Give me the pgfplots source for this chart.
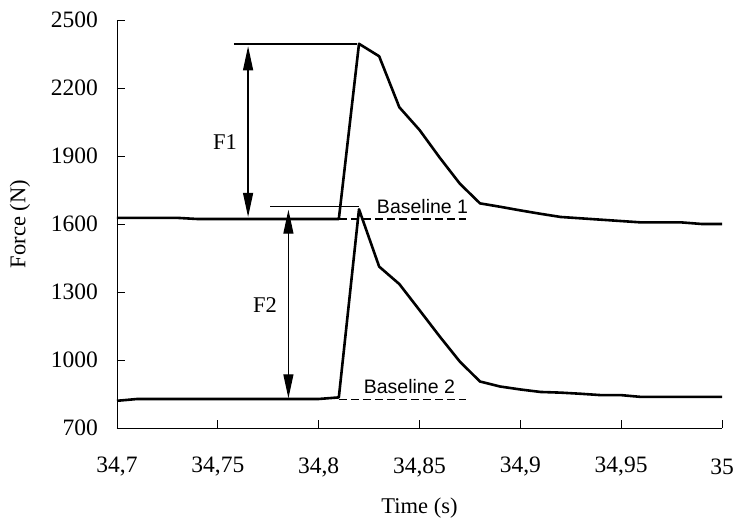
\documentclass[border=0pt]{standalone}
\usepackage{fontspec}
\setmainfont{Liberation Serif}
\newfontfamily\arialf{Liberation Sans}
\usepackage{pgfplots}
\pgfplotsset{compat=1.18}
\usetikzlibrary{arrows.meta}
\begin{document}
\begin{tikzpicture}
\path[use as bounding box] (-117pt,-96pt) rectangle (616pt,428pt);
\begin{axis}[
  anchor=south west, at={(0,0)},
  width=605pt, height=408pt, scale only axis,
  xmin=34.7, xmax=35, ymin=700, ymax=2500,
  axis lines=left, axis line style={-, line width=0.9pt},
  clip=false,
  tick align=inside, major tick length=8pt,
  tick style={line width=0.8pt, black},
  /pgf/number format/.cd, 1000 sep={}, assume math mode=true, /pgfplots/.cd,
  xtick={34.7,34.75,34.8,34.85,34.9,34.95,35},
  xticklabels={{34,7},{34,75},{34,8},{34,85},{34,9},{34,95},{35}},
  ytick={700,1000,1300,1600,1900,2200,2500},
  xticklabel style={anchor=center, inner sep=0pt, yshift=-39pt, font=\fontsize{23.5}{27}\selectfont},
  yticklabel style={anchor=east, inner sep=0pt, xshift=-19pt, font=\fontsize{23.5}{27}\selectfont},
  every axis x label/.style={at={(axis description cs:0.5,0)}, yshift=-80pt, anchor=center, font=\fontsize{22.5}{26}\selectfont},
  every axis y label/.style={at={(axis description cs:0,0.5)}, xshift=-97pt, rotate=90, anchor=center, font=\fontsize{22.5}{26}\selectfont},
  xlabel={Time (s)},
  ylabel={Force (N)},
]
% Series 1
\addplot[black, line width=2.6pt, line join=round] coordinates {
(34.70,1627) (34.71,1627) (34.72,1627) (34.73,1627) (34.74,1622) (34.75,1622)
(34.76,1622) (34.77,1622) (34.78,1622) (34.79,1622) (34.80,1622) (34.81,1622)
(34.82,2395) (34.83,2340) (34.84,2115) (34.85,2015) (34.86,1893) (34.87,1778)
(34.88,1691) (34.89,1676) (34.90,1660) (34.91,1645) (34.92,1631) (34.93,1625)
(34.94,1619) (34.95,1613) (34.96,1607) (34.97,1607) (34.98,1607) (34.99,1600)
(35.00,1600)};
% Series 2
\addplot[black, line width=2.6pt, line join=round] coordinates {
(34.70,820) (34.71,828) (34.72,828) (34.73,828) (34.74,828) (34.75,828)
(34.76,828) (34.77,828) (34.78,828) (34.79,828) (34.80,828) (34.81,835)
(34.82,1665) (34.83,1412) (34.84,1335) (34.85,1220) (34.86,1104) (34.87,993)
(34.88,905) (34.89,883) (34.90,870) (34.91,859) (34.92,856) (34.93,851)
(34.94,845) (34.95,845) (34.96,837) (34.97,837) (34.98,837) (34.99,837)
(35.00,837)};
% baselines (dashed)
\addplot[black, line width=1.2pt, dash pattern=on 8pt off 4pt] coordinates {(34.81,1622) (34.873,1622)};
\addplot[black, line width=1.2pt, dash pattern=on 8pt off 4pt] coordinates {(34.81,827) (34.873,827)};
% reference horizontal lines
\addplot[black, line width=1.2pt] coordinates {(34.758,2394) (34.819,2394)};
\addplot[black, line width=1.2pt] coordinates {(34.776,1677) (34.82,1677)};
% arrows
\draw[line width=1.2pt, {Triangle[length=24pt,width=10pt]}-{Triangle[length=24pt,width=10pt]}]
  (axis cs:34.765,2384) -- (axis cs:34.765,1631);
\draw[line width=1.2pt, {Triangle[length=24pt,width=10pt]}-{Triangle[length=24pt,width=10pt]}]
  (axis cs:34.785,1663) -- (axis cs:34.785,831);
% labels
\node[font=\fontsize{22.5}{26}\selectfont] at (axis cs:34.7536,1963) {F1};
\node[font=\fontsize{22.5}{26}\selectfont] at (axis cs:34.7734,1243) {F2};
\node[font=\arialf\fontsize{19.5}{23}\selectfont] at (axis cs:34.8515,1675) {Baseline 1};
\node[font=\arialf\fontsize{19.5}{23}\selectfont] at (axis cs:34.845,882) {Baseline 2};
\end{axis}
\end{tikzpicture}
\end{document}
